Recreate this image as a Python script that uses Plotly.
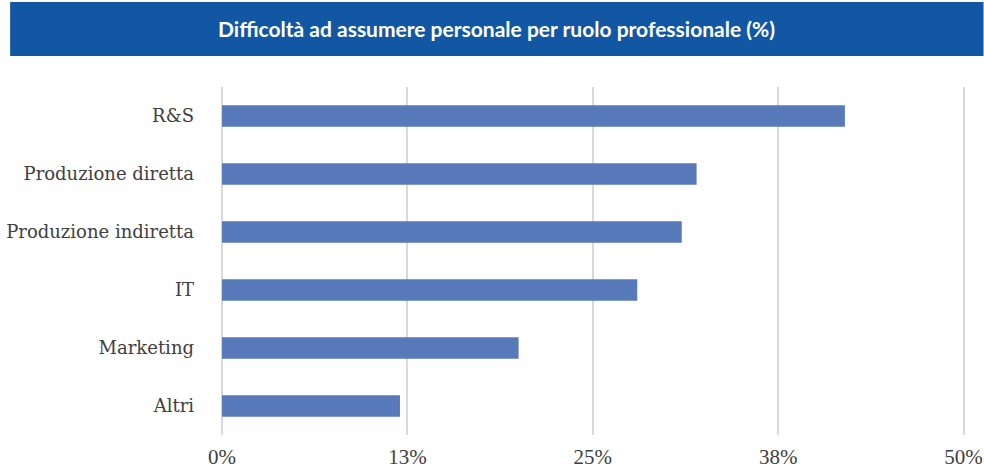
import plotly.graph_objects as go

# Share of companies reporting hiring difficulty, by professional role (%)
roles = ["R&S", "Produzione diretta", "Produzione indiretta", "IT", "Marketing", "Altri"]
difficulty_pct = [42, 32, 31, 28, 20, 12]

# Value axis ticks
tick_values = [0, 12.5, 25, 37.5, 50]
tick_labels = ["0%", "13%", "25%", "38%", "50%"]

title_text = "Difficoltà ad assumere personale per ruolo professionale (%)"

W, H = 984, 471
X_MAX = 50.3                      # a little headroom so the 50% gridline is drawn
L, T, B = 222, 87, 36
R = W - L - 742 * X_MAX / 50      # keeps 0..50 spanning 742 px

plot_w = W - L - R
plot_h = H - T - B

fig = go.Figure(
    go.Bar(
        x=difficulty_pct,
        y=roles,
        orientation="h",
        width=0.37,
        marker=dict(color="#5879ba", line=dict(width=0)),
        hoverinfo="x+y",
    )
)

fig.update_layout(
    width=W,
    height=H,
    margin=dict(l=L, r=R, t=T, b=B, pad=0, autoexpand=False),
    paper_bgcolor="white",
    plot_bgcolor="white",
    showlegend=False,
    xaxis=dict(
        range=[0, X_MAX],
        tickvals=tick_values,
        ticktext=tick_labels,
        showgrid=True,
        gridcolor="#d9d9d9",
        gridwidth=2,
        zeroline=True,
        zerolinecolor="#d9d9d9",
        zerolinewidth=2,
        showline=False,
        ticks="",
        automargin=False,
        ticklabelstandoff=7,
        tickfont=dict(family="Liberation Serif, Times New Roman, serif", size=21, color="#404040"),
        fixedrange=True,
    ),
    yaxis=dict(
        categoryorder="array",
        categoryarray=roles,
        autorange="reversed",
        showgrid=False,
        zeroline=False,
        showline=False,
        ticks="",
        automargin=False,
        ticklabelstandoff=27,
        tickfont=dict(family="DejaVu Serif, serif", size=18, color="#404040"),
        fixedrange=True,
    ),
    shapes=[
        # title banner
        dict(
            type="rect",
            xref="paper", yref="paper",
            x0=(10 - L) / plot_w, x1=(W - L) / plot_w,
            y0=(H - B - 56) / plot_h, y1=(H - B - 2) / plot_h,
            fillcolor="#1157a4",
            line=dict(width=0),
            layer="below",
        ),
    ],
    annotations=[
        dict(
            text="<b>" + title_text + "</b>",
            xref="paper", yref="paper",
            x=(497 - L) / plot_w,
            y=(H - B - 29) / plot_h,
            xanchor="center", yanchor="middle",
            showarrow=False,
            font=dict(family="Lato, Open Sans, sans-serif", size=21, color="white"),
        )
    ],
)

fig.write_html("out.html")
